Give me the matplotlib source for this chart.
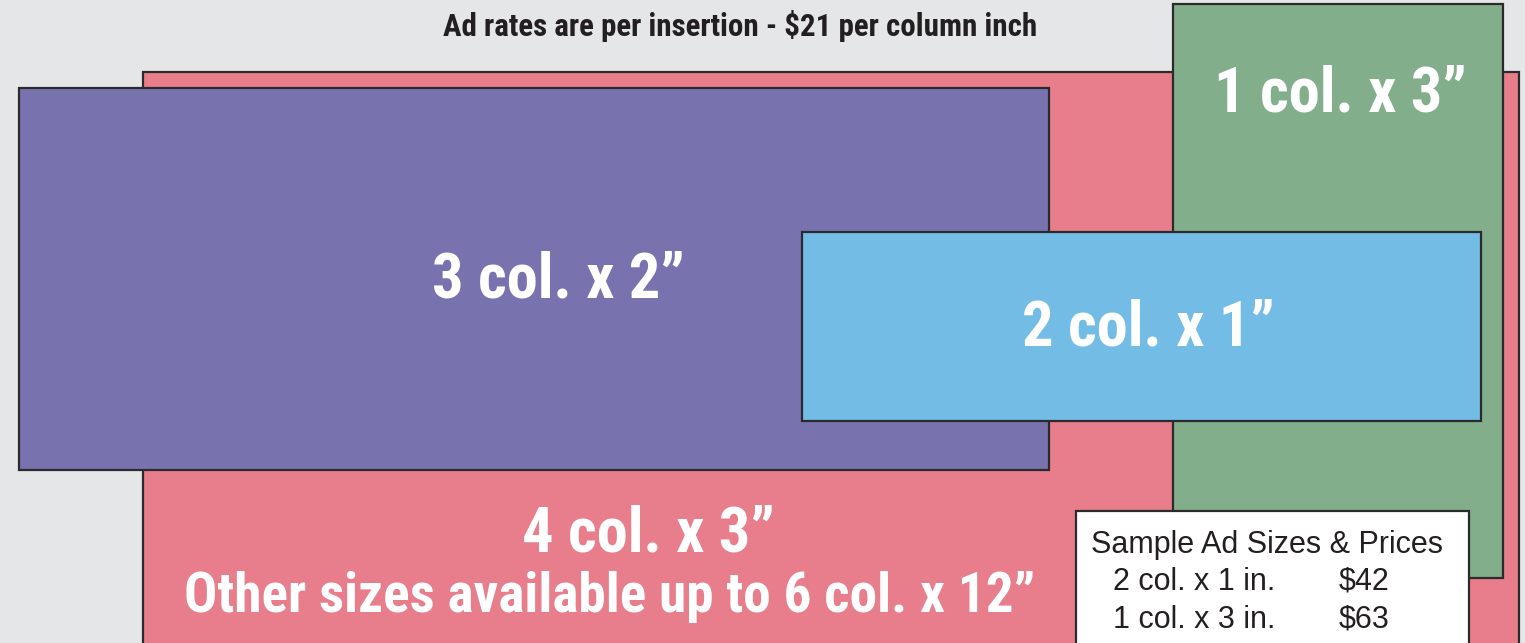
import matplotlib
matplotlib.use('Agg')
import matplotlib.pyplot as plt
from matplotlib import font_manager
from matplotlib.patches import Rectangle

# ad blocks in page pixels: left, top, right, bottom (drawing order)
ad_left = [143, 19, 1173, 802]
ad_top = [72, 88, 4, 232]
ad_right = [1519, 1049, 1503, 1481]
ad_bottom = [660, 470, 578, 421]
ad_colors = ['#e87d8b', '#7872ae', '#82ae8c', '#72bce6']

ad_labels = ['4 col. x 3\u201d', '3 col. x 2\u201d', '1 col. x 3\u201d', '2 col. x 1\u201d']
other_note = 'Other sizes available up to 6 col. x 12\u201d'

title = 'Ad rates are per insertion - $21 per column inch'
box_title = 'Sample Ad Sizes & Prices'
price_sizes = ['2 col. x 1 in.', '1 col. x 3 in.']
price_values = ['$42', '$63']

W, H = 1525, 643
fig = plt.figure(figsize=(W / 100, H / 100), dpi=100)
fig.patch.set_facecolor('#e5e6e8')
ax = fig.add_axes([0, 0, 1, 1])
ax.set_xlim(0, W)
ax.set_ylim(H, 0)
ax.axis('off')

# pick the narrowest installed family we can find
installed = {f.name for f in font_manager.fontManager.ttflist}
cond = None
for name in ['Roboto Condensed', 'Liberation Sans Narrow', 'DejaVu Sans Condensed',
             'Open Sans Condensed', 'Roboto', 'Liberation Sans']:
    if name in installed:
        cond = name
        break
if cond is None:
    cond = 'DejaVu Sans'
plain = 'Liberation Sans' if 'Liberation Sans' in installed else 'DejaVu Sans'

renderer = fig.canvas.get_renderer()


def fit_text(x, y, s, width, maxsize, **kw):
    # shrink the font until the text is no wider than in the reference
    t = ax.text(x, y, s, ha='center', va='center', fontsize=maxsize, **kw)
    w = t.get_window_extent(renderer).width
    if w > width:
        t.set_fontsize(maxsize * width / w)
    return t


for l, t, r, b, c in zip(ad_left, ad_top, ad_right, ad_bottom, ad_colors):
    ax.add_patch(Rectangle((l, t), r - l, b - t, facecolor=c,
                           edgecolor='#2b2b2b', linewidth=1.6))

big = dict(color='white', fontweight='bold', family=cond)
fit_text(648, 534, ad_labels[0], 273, 45, **big)
fit_text(610, 597, other_note, 850, 45, **big)
fit_text(558, 280, ad_labels[1], 270, 45, **big)
fit_text(1340, 94, ad_labels[2], 266, 45, **big)
fit_text(1148, 328, ad_labels[3], 270, 45, **big)

fit_text(740, 26, title, 595, 25, color='#231f20', fontweight='bold', family=cond)

# price box
ax.add_patch(Rectangle((1076, 511), 1469 - 1076, 160, facecolor='white',
                       edgecolor='#2b2b2b', linewidth=1.6))
ax.text(1091, 545, box_title, ha='left', va='center',
        color='#231f20', fontsize=22, family=plain)
for i, (s, v) in enumerate(zip(price_sizes, price_values)):
    y = 582 + i * 38
    ax.text(1113, y, s, ha='left', va='center', color='#231f20',
            fontsize=22, family=plain)
    ax.text(1339, y, v, ha='left', va='center', color='#231f20',
            fontsize=22, family=plain)

plt.savefig('out.png', dpi=100, facecolor=fig.get_facecolor())
plt.close()
